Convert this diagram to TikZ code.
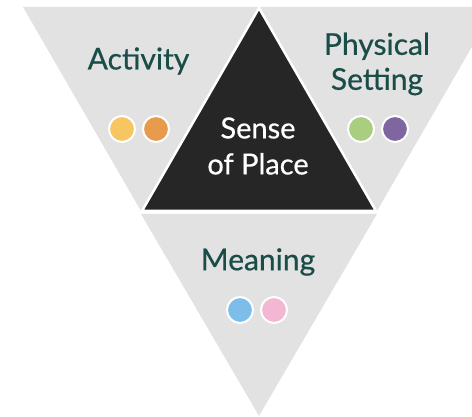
\documentclass[tikz,border=0pt]{standalone}
\usepackage{fontspec}
\setmainfont{Lato}[FakeBold=0.6]
\definecolor{greyfill}{HTML}{E2E2E2}
\definecolor{darkfill}{HTML}{262626}
\definecolor{tealtext}{HTML}{1B4D48}
\definecolor{cyellow}{HTML}{F7C662}
\definecolor{corange}{HTML}{E89B4C}
\definecolor{cgreen}{HTML}{AACE80}
\definecolor{cpurple}{HTML}{8066A1}
\definecolor{cblue}{HTML}{7DBDE9}
\definecolor{cpink}{HTML}{F3B7D3}
\tikzset{
  greytri/.style={fill=greyfill, draw=none},
  label/.style={text=tealtext, font=\fontsize{30}{35}\selectfont, align=center, inner sep=0pt},
  centrelabel/.style={text=white, font=\fontsize{29}{36}\selectfont, align=center, inner sep=0pt},
  dot/.style={circle, draw=white, line width=2pt, minimum size=26pt, inner sep=0pt},
}
\begin{document}
\begin{tikzpicture}[x=1pt,y=-1pt]
\useasboundingbox (0,0) rectangle (472,417);
\clip (0,0) rectangle (472,417);
% grey triangles
\fill[greytri] (23,7) -- (259,7) -- (141,211) -- cycle;
\fill[greytri] (259,7) -- (495,7) -- (377,211) -- cycle;
\fill[greytri] (141,214) -- (377,214) -- (259,416) -- cycle;
% centre triangle
\draw[fill=darkfill, draw=white, line width=2.5pt, line join=miter] (259,8) -- (376,211) -- (142,211) -- cycle;
% labels
\node[label] (act) at (138.5,61) {Activity};
\node[label] (phys) at (377,64) {Physical\\Setting};
\node[label] (mean) at (258,262) {Meaning};
\node[centrelabel] (sop) at (258,146) {Sense\\of Place};
% dots
\node[dot, fill=cyellow] (d1) at (122,129) {};
\node[dot, fill=corange] (d2) at (156,129) {};
\node[dot, fill=cgreen] (d3) at (361,129) {};
\node[dot, fill=cpurple] (d4) at (395,129) {};
\node[dot, fill=cblue] (d5) at (240,310) {};
\node[dot, fill=cpink] (d6) at (274,310) {};
\end{tikzpicture}
\end{document}
